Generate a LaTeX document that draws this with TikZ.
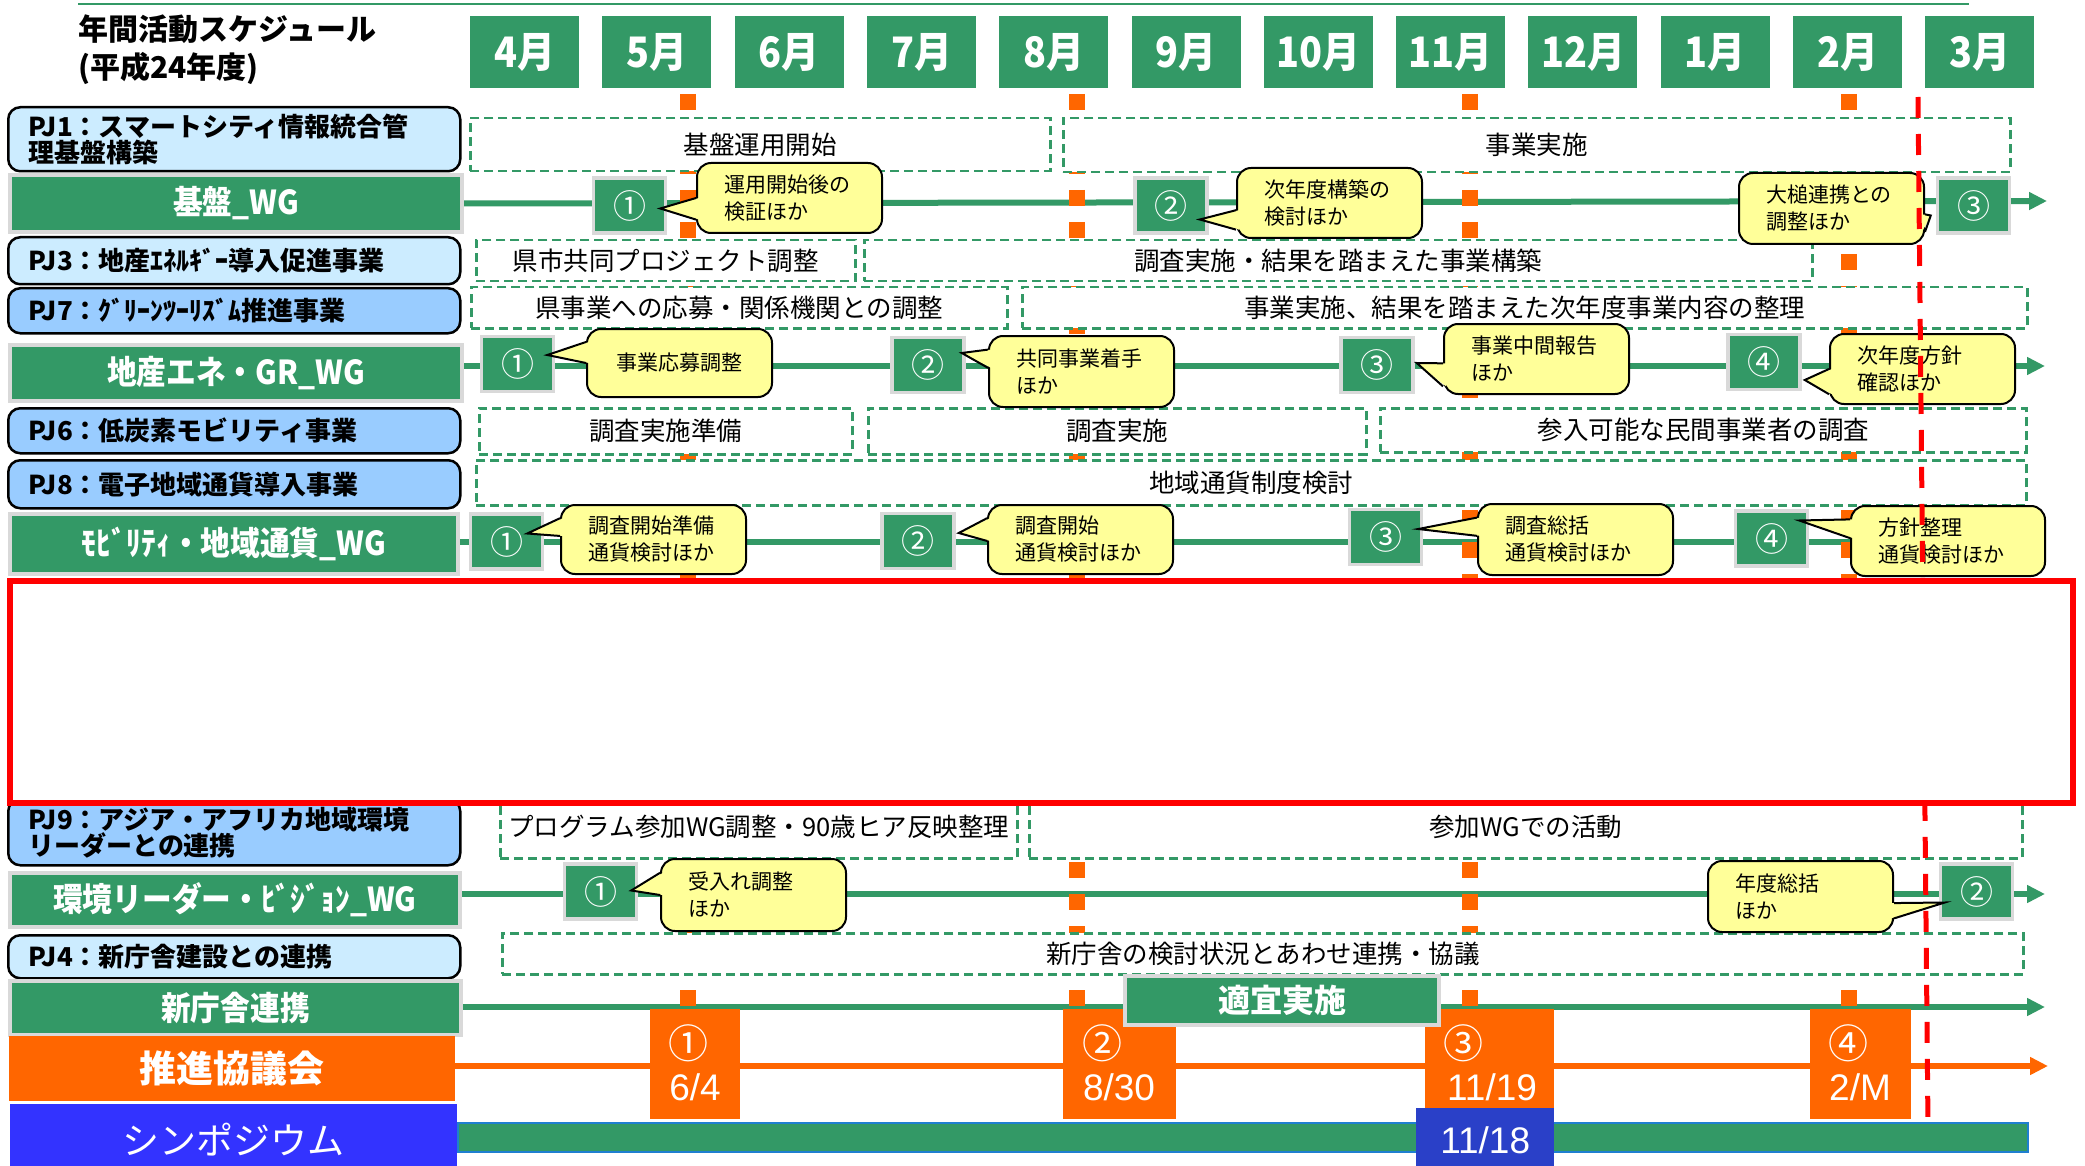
\documentclass[tikz,border=0pt]{standalone}
\usepackage{fontspec}
\setmainfont{Noto Sans CJK JP}
\newfontfamily\narrowfont[FakeStretch=0.9]{Noto Sans CJK JP}
\newfontfamily\datefont{Liberation Sans}
\usetikzlibrary{calc,arrows.meta}
\definecolor{wggreen}{HTML}{339966}
\definecolor{pjlight}{HTML}{CCECFF}
\definecolor{pjblue}{HTML}{99CCFF}
\definecolor{kaigi}{HTML}{FF6600}
\definecolor{memo}{HTML}{FFFF99}
\definecolor{symblue}{HTML}{3333FF}
\definecolor{dayblue}{HTML}{2A40C8}
\definecolor{barrim}{HTML}{1F7FD0}
\definecolor{rimgrey}{HTML}{D9D9D9}
\newcommand\fsz[2]{\fontsize{#1}{#2}\selectfont}
% pointer of a callout: callout, side, from, to (fractions of the side), tip
\newcommand\DrawPointer[5]{%
  \coordinate (pa) at ($(#1.north #2)!#3!(#1.south #2)$);
  \coordinate (pb) at ($(#1.north #2)!#4!(#1.south #2)$);
  \fill[memo] ($(pa)!3pt!(pa -| #1.center)$) -- #5 -- ($(pb)!3pt!(pb -| #1.center)$) -- cycle;
  \draw[line width=2] (pa) -- #5 -- (pb);
}

\begin{document}
\begin{tikzpicture}[x=1pt, y=-1pt,
  month/.style={fill=wggreen, text=white, minimum width=109, minimum height=72, inner sep=0, font=\narrowfont\bfseries\fsz{42}{42}},
  pjbox/.style={draw=black, line width=2.5, rounded corners=12, anchor=north west, inner xsep=20, inner ysep=0, text width=412, align=left, font=\bfseries\fsz{26}{26}},
  wgbox/.style={fill=wggreen, draw=rimgrey, line width=4, anchor=north west, inner sep=0, text=white, font=\narrowfont\bfseries\fsz{33}{33}},
  planbox/.style={draw=wggreen, line width=2.5, dash pattern=on 9 off 5, fill=white, anchor=north west, inner sep=0, font=\fsz{25.5}{26}},
  numbox/.style={fill=wggreen, draw=rimgrey, line width=3.5, minimum width=72, minimum height=55, inner sep=0, text=white, font=\fsz{33}{33}},
  memobox/.style={fill=memo, draw=black, line width=2, rounded corners=14, anchor=north west, inner xsep=27, inner ysep=0, text width=131, align=left, font=\fsz{21}{27}},
  tline/.style={wggreen, line width=6, -{Triangle[length=18pt,width=17pt]}},
  meetdash/.style={kaigi, line width=16, dash pattern=on 16 off 16},
  meetbox/.style={fill=kaigi, anchor=north west, inner sep=0, minimum height=110},
  meetno/.style={text=white, inner sep=0, font=\fsz{40}{40}},
  meetday/.style={text=white, inner sep=0, font=\datefont\fsz{37}{37}}]

\useasboundingbox (0,0) rectangle (2085,1166);
\fill[white] (0,0) rectangle (2085,1166);

% heading
\draw[wggreen, line width=2.5] (78,4) -- (1969,4);
\node[anchor=west, align=left, inner sep=0, font=\bfseries\fsz{30}{38}] (title) at (78,50) {年間活動スケジュール\\(平成24年度)};
\foreach \m [count=\i from 0] in {4,5,...,12,1,2,3}
  \node[month] (mon\m) at ({524.5+132.3*\i},52) {{\m}月};

% left column
\node[pjbox, fill=pjlight, minimum height=64] (pj1) at (7,106) {PJ1：スマートシティ情報統合管\\理基盤構築};
\node[wgbox, minimum width=452, minimum height=57] (kiban) at (8,173) {基盤\_WG};
\node[pjbox, fill=pjlight, minimum height=47] (pj3) at (7,236) {PJ3：地産ｴﾈﾙｷﾞｰ導入促進事業};
\node[pjbox, fill=pjblue, minimum height=45] (pj7) at (7,287) {PJ7：ｸﾞﾘｰﾝﾂｰﾘｽﾞﾑ推進事業};
\node[wgbox, minimum width=452, minimum height=56] (chisan) at (8,343) {地産エネ・GR\_WG};
\node[pjbox, fill=pjblue, minimum height=45] (pj6) at (7,407) {PJ6：低炭素モビリティ事業};
\node[pjbox, fill=pjblue, minimum height=48] (pj8) at (7,459) {PJ8：電子地域通貨導入事業};
\node[wgbox, minimum width=448, minimum height=60] (mobi) at (8,512) {ﾓﾋﾞﾘﾃｨ・地域通貨\_WG};
\node[pjbox, fill=pjblue, minimum height=66] (pj9) at (7,798) {PJ9：アジア・アフリカ地域環境\\リーダーとの連携};
\node[wgbox, minimum width=450, minimum height=54] (kankyo) at (8,871) {環境リーダー・ﾋﾞｼﾞｮﾝ\_WG};
\node[pjbox, fill=pjlight, minimum height=43] (pj4) at (7,934) {PJ4：新庁舎建設との連携};
\node[wgbox, minimum width=451, minimum height=54] (chosha) at (8,979) {新庁舎連携};
\node[fill=kaigi, anchor=north west, inner sep=0, minimum width=446, minimum height=65, text=white, font=\bfseries\fsz{37}{37}] (kyogikai) at (9,1036) {推進協議会};
\node[fill=symblue, anchor=north west, inner sep=0, minimum width=447, minimum height=70, text=white, font=\fsz{37}{37}] (sympo) at (10,1104) {シンポジウム};

% time lines
\coordinate (e1) at (2047,201);
\coordinate (e2) at (2045,366);
\coordinate (e3) at (2030,542);
\coordinate (e4) at (2045,894);
\coordinate (e5) at (2045,1007);
\coordinate (e6) at (2048,1066);
\draw[tline] (kiban.east) -- (e1);
\draw[tline] (chisan.east |- e2) -- (e2);
\draw[wggreen, line width=6] (mobi.east |- e3) -- (e3);
\draw[tline] (kankyo.east |- e4) -- (e4);
\draw[tline] (chosha.east |- e5) -- (e5);
\draw[tline, kaigi] (kyogikai.east |- e6) -- (e6);

% council meetings
\node[meetbox, minimum width=90] (kai1) at (650,1009) {};
\node[meetbox, minimum width=113] (kai2) at (1063,1009) {};
\node[meetbox, minimum width=129] (kai3) at (1425,1009) {};
\node[meetbox, minimum width=101] (kai4) at (1810,1009) {};
\node[meetno] (kai1no) at (688,1043) {①};
\node[meetno] (kai2no) at (1102,1043) {②};
\node[meetno] (kai3no) at (1463,1043) {③};
\node[meetno] (kai4no) at (1848,1043) {④};
\node[meetday] (kai1day) at (695,1087) {6/4};
\node[meetday] (kai2day) at (1119,1087) {8/30};
\node[meetday] (kai3day) at (1492,1087) {11/19};
\node[meetday] (kai4day) at (1860,1087) {2/M};
\foreach \x/\k in {688/1,1077/2,1470/3,1849/4} {
  \coordinate (top\k) at (\x,94);
  \draw[meetdash] (top\k) -- (top\k |- kai\k.north);
}

% project plans
\node[planbox, minimum width=580, minimum height=53] (p11) at (469,117) {基盤運用開始};
\node[planbox, minimum width=947, minimum height=54] (p12) at (1062,117) {事業実施};
\node[planbox, minimum width=379, minimum height=41] (p31) at (475,239) {県市共同プロジェクト調整};
\node[planbox, minimum width=948, minimum height=41] (p32) at (863,239) {調査実施・結果を踏まえた事業構築};
\node[planbox, minimum width=536, minimum height=41] (p71) at (470,286) {県事業への応募・関係機関との調整};
\node[planbox, minimum width=1005, minimum height=41] (p72) at (1021,286) {事業実施、結果を踏まえた次年度事業内容の整理};
\node[planbox, minimum width=373, minimum height=46] (p61) at (478,407) {調査実施準備};
\node[planbox, minimum width=498, minimum height=46] (p62) at (867,407) {調査実施};
\node[planbox, minimum width=646, minimum height=44] (p63) at (1379,407) {参入可能な民間事業者の調査};
\node[planbox, minimum width=1550, minimum height=45] (p81) at (475,459) {地域通貨制度検討};
\node[planbox, minimum width=517, minimum height=62] (p91) at (499,795) {プログラム参加WG調整・90歳ヒア反映整理};
\node[planbox, minimum width=993, minimum height=62] (p92) at (1028,795) {参加WGでの活動};
\node[planbox, minimum width=1521, minimum height=41] (p41) at (501,932) {新庁舎の検討状況とあわせ連携・協議};

% WG steps
\node[numbox] (n11) at (629.5,205.5) {①};
\node[numbox] (n12) at (1171,205.5) {②};
\node[numbox] (n13) at (1973.5,205.5) {③};
\node[numbox] (n21) at (517.5,364) {①};
\node[numbox] (n22) at (928,365) {②};
\node[numbox] (n23) at (1377,365) {③};
\node[numbox] (n24) at (1764,362) {④};
\node[numbox] (n31) at (506.5,541.5) {①};
\node[numbox] (n32) at (918,541) {②};
\node[numbox] (n33) at (1385.5,537) {③};
\node[numbox] (n34) at (1771.5,538.5) {④};
\node[numbox] (n41) at (600.5,891.5) {①};
\node[numbox] (n42) at (1976.5,891.5) {②};

% callouts
\node[memobox, minimum height=70] (c11) at (696,162) {運用開始後の\\検証ほか};
\DrawPointer{c11}{west}{0.5}{0.8}{($(n11.east)+(-7,3)$)}
\node[memobox, minimum height=70] (c12) at (1236,167) {次年度構築の\\検討ほか};
\DrawPointer{c12}{west}{0.6}{0.87}{($(n12.east)+(-9,14)$)}
\node[memobox, minimum height=71] (c13) at (1738,172) {大槌連携との\\調整ほか};
\DrawPointer{c13}{east}{0.58}{0.82}{($(n13.west)+(-5,10)$)}
\node[memobox, minimum height=68, align=center] (c21) at (586,328) {事業応募調整};
\DrawPointer{c21}{west}{0.2}{0.5}{($(n21.east)+(-8,-9)$)}
\node[memobox, minimum height=71] (c22) at (988,335) {共同事業着手\\ほか};
\DrawPointer{c22}{west}{0.2}{0.45}{($(n22.east)+(-4,-12)$)}
\node[memobox, minimum height=70] (c23) at (1443,323) {事業中間報告\\ほか};
\DrawPointer{c23}{west}{0.56}{0.88}{($(n23.east)+(2,-2)$)}
\node[memobox, minimum height=70] (c24) at (1829,333) {次年度方針\\確認ほか};
\DrawPointer{c24}{west}{0.5}{0.85}{($(n24.east)+(3,18)$)}
\node[memobox, minimum height=69] (c31) at (560,504) {調査開始準備\\通貨検討ほか};
\DrawPointer{c31}{west}{0.2}{0.45}{($(n31.east)+(-17,-8)$)}
\node[memobox, minimum height=69] (c32) at (987,504) {調査開始\\通貨検討ほか};
\DrawPointer{c32}{west}{0.2}{0.52}{($(n32.east)+(3,-8)$)}
\node[memobox, minimum height=71, text width=141] (c33) at (1477,503) {調査総括\\通貨検討ほか};
\DrawPointer{c33}{west}{0.2}{0.45}{($(n33.east)+(-5,-8)$)}
\node[memobox, minimum height=70, text width=140] (c34) at (1850,505) {方針整理\\通貨検討ほか};
\DrawPointer{c34}{west}{0.2}{0.46}{($(n34.east)+(-10,-18)$)}
\node[memobox, minimum height=72] (c41) at (660,858) {受入れ調整\\ほか};
\DrawPointer{c41}{west}{0.2}{0.5}{($(n41.east)+(-7,-1)$)}
\node[memobox, minimum height=71] (c42) at (1707,860) {年度総括\\ほか};
\DrawPointer{c42}{east}{0.59}{0.8}{($(n42.west)+(6,11)$)}

% new office, symposium
\node[wgbox, anchor=center, minimum width=314, minimum height=49, font=\bfseries\fsz{32}{32}] (tekigi) at (1282,1000) {適宜実施};
\node[fill=wggreen, draw=barrim, line width=2, anchor=north west, inner sep=0, minimum width=1570, minimum height=29] (sympobar) at (457,1122) {};
\node[fill=dayblue, anchor=north west, inner sep=0, minimum width=138, minimum height=64, text=white, font=\datefont\fsz{37}{37}] (sympoday) at (1416,1108) {11/18};

% fiscal year end
\coordinate (fyA) at (1918,97);
\coordinate (fyB) at (1928,1127);
\draw[red, line width=5, dash pattern=on 21 off 16] (fyA) -- (fyB);

% hidden rows
\node[draw=red, line width=6, fill=white, anchor=north west, inner sep=0, minimum width=2063, minimum height=222] (hidden) at (7,578) {};
\end{tikzpicture}
\end{document}
